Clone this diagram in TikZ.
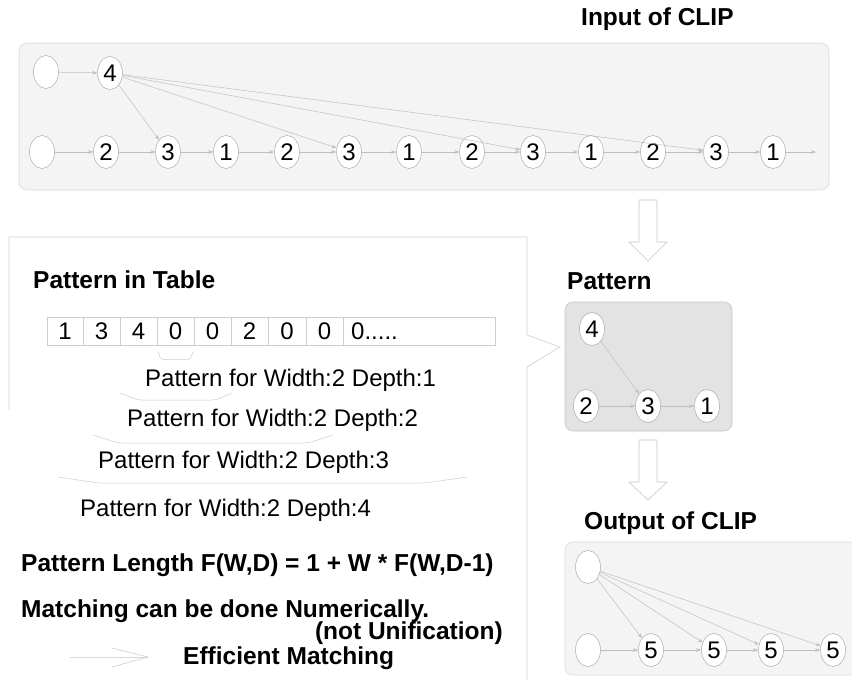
\documentclass[tikz,border=0pt]{standalone}
\usepackage{fontspec}
\setmainfont{Liberation Sans}
\usetikzlibrary{shapes.geometric,arrows.meta}
\tikzset{
  nd/.style={ellipse, draw=gray!65, fill=white, line width=0.5pt, minimum width=25pt, minimum height=33pt, inner sep=0pt, font=\fontsize{24}{24}\selectfont},
  ar/.style={draw=gray!50, line width=0.5pt, -{Stealth[length=5pt,width=3.5pt]}},
  panel/.style={draw=gray!30, line width=0.6pt, rounded corners=8pt},
  blockarrow/.style={draw=gray!45, fill=white, line width=0.6pt},
  brace/.style={draw=gray!40, line width=0.5pt, rounded corners=4pt},
  cell/.style={font=\fontsize{24}{24}\selectfont, inner sep=0pt},
  txt/.style={font=\fontsize{24}{24}\selectfont, inner sep=0pt},
  btxt/.style={font=\fontsize{24.5}{24.5}\selectfont\bfseries, inner sep=0pt},
}
\begin{document}
\begin{tikzpicture}[x=1pt,y=-1pt]
\useasboundingbox (0,0) rectangle (852,680);
\clip (0,0) rectangle (852,680);

% ---------- Input of CLIP ----------
\node[btxt, anchor=base west] (tin) at (581,25) {Input of CLIP};
\draw[panel, fill=gray!9] (19,43) rectangle (829,190);

\node[nd] (t0) at (46,72) {};
\node[nd] (t4) at (110,73) {4};
\node[nd] (b0) at (42,152) {};
\node[nd] (b1) at (106,152) {2};
\node[nd] (b2) at (168,152) {3};
\node[nd] (b3) at (226,152) {1};
\node[nd] (b4) at (287,152) {2};
\node[nd] (b5) at (349,152) {3};
\node[nd] (b6) at (409,152) {1};
\node[nd] (b7) at (472,152) {2};
\node[nd] (b8) at (533,152) {3};
\node[nd] (b9) at (591,152) {1};
\node[nd] (b10) at (653,152) {2};
\node[nd] (b11) at (716,152) {3};
\node[nd] (b12) at (773,152) {1};
\coordinate (bend) at (816,152);

\draw[ar] (t0) -- (t4);
\draw[ar] (b0) -- (b1);
\foreach \a/\b in {b1/b2,b2/b3,b3/b4,b4/b5,b5/b6,b6/b7,b7/b8,b8/b9,b9/b10,b10/b11,b11/b12}
  \draw[ar] (\a) -- (\b);
\draw[ar] (b12) -- (bend);
\foreach \t in {b2,b5,b8,b11}
  \draw[ar] (t4) -- (\t);

% ---------- block arrow 1 ----------
\draw[blockarrow] (639,200) -- (657,200) -- (657,242) -- (667,242) -- (648,261) -- (629,242) -- (639,242) -- cycle;

% ---------- Pattern ----------
\node[btxt, anchor=base west] (tpat) at (567,289) {Pattern};
\draw[panel, draw=gray!45, fill=gray!22] (565,302) rectangle (732,431);
\node[nd] (p4) at (592,329) {4};
\node[nd] (p2) at (586,406) {2};
\node[nd] (p3) at (648,406) {3};
\node[nd] (p1) at (707,406) {1};
\draw[ar] (p2) -- (p3);
\draw[ar] (p3) -- (p1);
\draw[ar] (p4) -- (p3);

% ---------- block arrow 2 ----------
\draw[blockarrow] (639,440) -- (657,440) -- (657,482) -- (667,482) -- (648,500) -- (629,482) -- (639,482) -- cycle;

% ---------- Output of CLIP ----------
\node[btxt, anchor=base west] (tout) at (584,529) {Output of CLIP};
\draw[panel, fill=gray!9] (565,542) rectangle (890,675);
\node[nd] (o0) at (588,567) {};
\node[nd] (ob) at (588,650) {};
\node[nd] (o1) at (651,650) {5};
\node[nd] (o2) at (714,650) {5};
\node[nd] (o3) at (771,650) {5};
\node[nd] (o4) at (833,650) {5};
\draw[ar] (ob) -- (o1);
\draw[ar] (o1) -- (o2);
\draw[ar] (o2) -- (o3);
\draw[ar] (o3) -- (o4);
\foreach \t in {o1,o2,o3,o4}
  \draw[ar] (o0) -- (\t);

% ---------- callout outline ----------
\draw[draw=gray!35, line width=0.7pt] (9,410) -- (9,237) -- (527,237) -- (527,335) -- (560,347) -- (527,367) -- (527,690);

% ---------- Pattern in Table ----------
\node[btxt, anchor=base west] (tpit) at (33,288.6) {Pattern in Table};
\draw[draw=gray!40, line width=0.6pt] (47,317) rectangle (495,345);
\foreach \x in {83,120,157,194,231,268,306,343}
  \draw[draw=gray!40, line width=0.6pt] (\x,317) -- (\x,345);
\node[cell] (c1) at (65,331) {1};
\node[cell] (c2) at (101.5,331) {3};
\node[cell] (c3) at (138.5,331) {4};
\node[cell] (c4) at (175.5,331) {0};
\node[cell] (c5) at (212.5,331) {0};
\node[cell] (c6) at (249.5,331) {2};
\node[cell] (c7) at (287,331) {0};
\node[cell] (c8) at (324.5,331) {0};
\node[cell, anchor=west] (c9) at (351,331) {0.....};

% braces
\draw[brace, rounded corners=2pt] (158,352) -- (161,359.5) -- (190,359.5) -- (193,352);
\draw[brace] (120,393) -- (138,400) -- (216,400) -- (232,393);
\draw[brace] (93,435) -- (118,443) -- (308,443) -- (333,435);
\draw[brace] (58,477) -- (98,483) -- (425,483) -- (467,477);

\node[txt, anchor=base west] (l1) at (145,386.6) {Pattern for Width:2 Depth:1};
\node[txt, anchor=base west] (l2) at (127,426.6) {Pattern for Width:2 Depth:2};
\node[txt, anchor=base west] (l3) at (98,468.6) {Pattern for Width:2 Depth:3};
\node[txt, anchor=base west] (l4) at (80,516.6) {Pattern for Width:2 Depth:4};

\node[btxt, anchor=base west] (plen) at (21,571) {Pattern Length F(W,D) = 1 + W * F(W,D-1)};
\node[btxt, anchor=base west] (mat) at (21,617) {Matching can be done Numerically.};
\node[btxt, anchor=base east] (unif) at (503,639) {(not Unification)};
\node[btxt, anchor=base west] (eff) at (183,664) {Efficient Matching};

% efficient arrow
\coordinate (ea) at (70,657);
\coordinate (eb) at (148,657);
\coordinate (eu) at (112,648);
\coordinate (ed) at (112,667);
\draw[draw=gray!30, line width=0.6pt] (ea) -- (eb);
\draw[draw=gray!40, line width=0.6pt] (eu) -- (eb) -- (ed);
\end{tikzpicture}
\end{document}
